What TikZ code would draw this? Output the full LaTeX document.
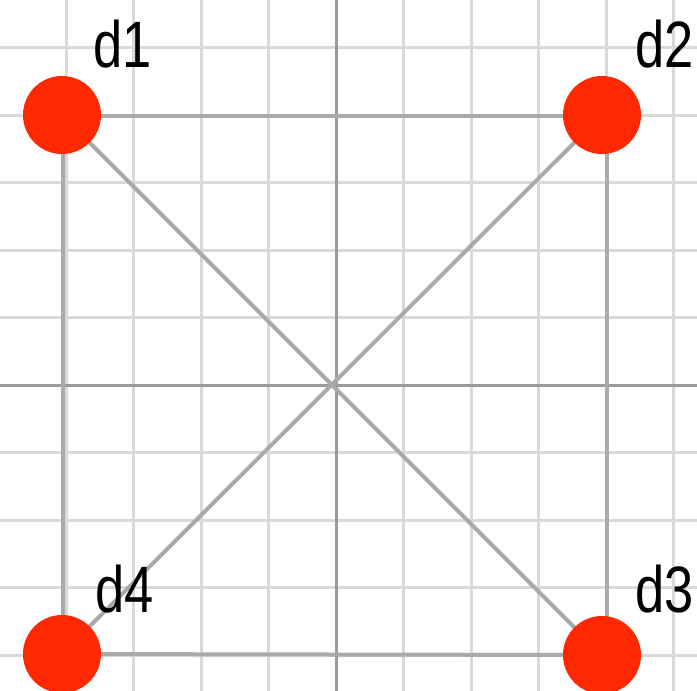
\documentclass[tikz,border=0pt]{standalone}
\usepackage{fontspec}
\setmainfont{Liberation Sans}
\pgfdeclarelayer{bg}
\pgfdeclarelayer{edges}
\pgfsetlayers{bg,edges,main}
\definecolor{gridc}{HTML}{D9D9D9}
\definecolor{axisc}{HTML}{9A9A9A}
\definecolor{edgec}{HTML}{AAAAAA}
\definecolor{dotc}{HTML}{FF2800}
\tikzset{
  gridline/.style={draw=gridc, line width=1.5pt},
  axisline/.style={draw=axisc, line width=1.5pt},
  edgeline/.style={draw=edgec, line width=2pt},
  dot/.style={circle, fill=dotc, minimum size=39pt, inner sep=0pt},
  lab/.style={anchor=base, inner sep=0pt, font=\fontsize{32.8}{33}\selectfont, xscale=0.8}
}
\begin{document}
\begin{tikzpicture}[x=0.5pt,y=-0.5pt]
\useasboundingbox (0,0) rectangle (697,691);
\begin{pgfonlayer}{bg}
\fill[white] (0,0) rectangle (697,691);
\foreach \gx in {66,133.5,201,268.5,403.5,471,538.5,606,673.5}
  \draw[gridline] (\gx,0) -- (\gx,691);
\foreach \gy in {47.5,115,182.5,250,317.5,452.5,520,587.5,655}
  \draw[gridline] (0,\gy) -- (697,\gy);
\draw[axisline] (336,0) -- (336,691);
\draw[axisline] (0,385) -- (697,385);
\end{pgfonlayer}
\node[dot] (d1) at (62,115) {};
\node[dot] (d2) at (602,115) {};
\node[dot] (d3) at (602,655) {};
\node[dot] (d4) at (62,654) {};
\begin{pgfonlayer}{edges}
\draw[edgeline] ([yshift=-0.7pt]d1.center) -- ([yshift=-0.7pt]d2.center);
\draw[edgeline] ([xshift=2.5pt]d2.center) -- ([xshift=2.5pt]d3.center);
\draw[edgeline] (d3.center) -- (d4.center);
\draw[edgeline] ([xshift=0.5pt]d4.center) -- ([xshift=0.5pt]d1.center);
\draw[edgeline] (d1.center) -- (d3.center);
\draw[edgeline] (d2.center) -- (d4.center);
\end{pgfonlayer}
\node[lab] (l1) at (123,67) {d1};
\node[lab] (l2) at (665,67) {d2};
\node[lab] (l3) at (665,612) {d3};
\node[lab] (l4) at (125,612) {d4};
\end{tikzpicture}
\end{document}
